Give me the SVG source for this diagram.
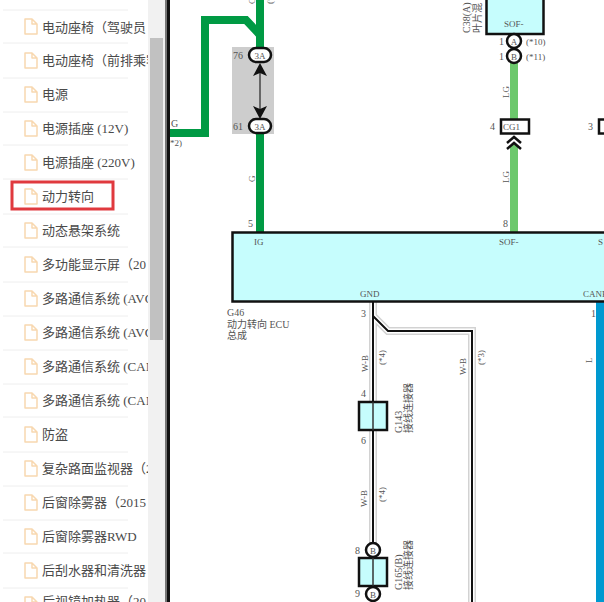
<svg xmlns="http://www.w3.org/2000/svg" width="604" height="602" viewBox="0 0 604 602">
<style>
.side{font-family:"Liberation Serif","Noto Sans CJK SC",serif;font-size:13px;fill:#4a4a4a}
.sep{stroke:#eee;stroke-width:1}
.doc{fill:#fff;stroke:#f8d8b0;stroke-width:1.5;stroke-linejoin:round}
.t{font-family:"Liberation Serif","Noto Sans CJK SC",serif;font-size:9px;fill:#555}
.c{font-family:"Liberation Serif","Noto Sans CJK SC",serif;font-size:10px;fill:#555}
.n{font-family:"Liberation Serif",serif;font-size:10px;fill:#555}
.wire{fill:none;stroke-linejoin:miter}
.pin{fill:#fff;stroke:#111;stroke-width:2.5}
.blk{fill:#c6fdfd;stroke:#111;stroke-width:2.5}
.ah{fill:#111}
</style>
<defs>
<path id="doc" class="doc" d="M25 0H32L37 5V15H25Z M32 0V5H37"/>
<clipPath id="sc"><rect x="0" y="0" width="148" height="602"/></clipPath>
</defs>
<rect width="604" height="602" fill="#fff"/>
<g id="sidebar">
<g class="sep">
<path d="M3 10H128M3 43H128M3 78H128M3 112H128M3 145H128M3 179H128M3 214H128M3 247H128M3 282H128M3 316H128M3 350H128M3 384H128M3 417H128M3 452H128M3 486H128M3 520H128M3 553H128M3 588H128"/>
</g>
<g>
<use href="#doc" y="19"/><use href="#doc" y="53"/><use href="#doc" y="87"/><use href="#doc" y="121"/><use href="#doc" y="155"/><use href="#doc" y="189"/><use href="#doc" y="223"/><use href="#doc" y="257"/><use href="#doc" y="291"/><use href="#doc" y="325"/><use href="#doc" y="359"/><use href="#doc" y="393"/><use href="#doc" y="427"/><use href="#doc" y="461"/><use href="#doc" y="495"/><use href="#doc" y="529"/><use href="#doc" y="563"/><use href="#doc" y="597"/>
</g>
<g clip-path="url(#sc)">
<text class="side" x="42" y="32">电动座椅（驾驶员</text>
<text class="side" x="42" y="65">电动座椅（前排乘客</text>
<text class="side" x="42" y="99">电源</text>
<text class="side" x="42" y="133">电源插座 (12V)</text>
<text class="side" x="42" y="167">电源插座 (220V)</text>
<text class="side" x="42" y="201">动力转向</text>
<text class="side" x="42" y="235">动态悬架系统</text>
<text class="side" x="42" y="269">多功能显示屏（20</text>
<text class="side" x="42" y="303">多路通信系统 (AVC</text>
<text class="side" x="42" y="337">多路通信系统 (AVC</text>
<text class="side" x="42" y="371">多路通信系统 (CAN</text>
<text class="side" x="42" y="405">多路通信系统 (CAN</text>
<text class="side" x="42" y="439">防盗</text>
<text class="side" x="42" y="473">复杂路面监视器（2</text>
<text class="side" x="42" y="507">后窗除雾器（2015</text>
<text class="side" x="42" y="541">后窗除雾器RWD</text>
<text class="side" x="42" y="575">后刮水器和清洗器</text>
<text class="side" x="42" y="606">后视镜加热器（20</text>
</g>
<rect x="12" y="182" width="101" height="27" fill="none" stroke="#e0393e" stroke-width="3"/>
<rect x="148" y="0" width="17" height="602" fill="#f1f1f1"/>
<rect x="150" y="38" width="13" height="302" fill="#c1c1c1"/>
<rect x="165" y="0" width="2" height="602" fill="#777"/>
<rect x="167" y="0" width="3" height="602" fill="#111"/>
</g>
<rect x="232" y="47" width="42" height="87" fill="#cdcdcd"/>
<g id="connectors">
<path class="wire" stroke="#009a44" stroke-width="8" d="M170 133H205V20H246L260 35"/>
<path class="wire" stroke="#009a44" stroke-width="8" d="M260 0V48M260 130V232"/>
<path class="wire" stroke="#6cc86c" stroke-width="8" d="M514 62V119M514 145V232"/>
<path class="wire" stroke="#0099d0" stroke-width="8" d="M600 302V602"/>
<path class="wire" stroke="#d2d2d2" stroke-width="8" d="M373 302V550M373 566V586"/>
<path class="wire" stroke="#d2d2d2" stroke-width="8" d="M373 316L388 331H472V602"/>
<path class="wire" stroke="#fff" stroke-width="5" d="M373 316L388 331H472V602"/>
<path class="wire" stroke="#fff" stroke-width="5" d="M373 302V550"/>
<path class="wire" stroke="#111" stroke-width="2" d="M373 302V602"/>
<path class="wire" stroke="#111" stroke-width="2" d="M373 316L388 331H472V602"/>
<path stroke="#444" stroke-width="1.5" d="M260 68V112"/>
<path class="ah" d="M260 63L267 76L260 73L253 76Z"/>
<path class="ah" d="M260 119L267 106L260 109L253 106Z"/>
<path fill="none" stroke="#111" stroke-width="2.5" d="M507 143L514 137L521 143M507 149L514 143L521 149"/>
</g>
<g id="node-3a-top"><rect class="pin" x="249" y="48" width="22" height="14" rx="7"/><text class="t" x="260" y="59" text-anchor="middle">3A</text><text class="n" x="233" y="59">76</text></g>
<g id="node-3a-bottom"><rect class="pin" x="249" y="119" width="22" height="14" rx="7"/><text class="t" x="260" y="130" text-anchor="middle">3A</text><text class="n" x="233" y="130">61</text></g>
<g id="node-g46">
<rect class="blk" x="232.500" y="232.500" width="380" height="69"/>
<text class="t" x="254" y="245">IG</text>
<text class="t" x="499" y="245">SOF-</text>
<text class="t" x="598" y="245">S</text>
<text class="t" x="360" y="297">GND</text>
<text class="t" x="583" y="297">CANH</text>
<text class="n" x="248" y="227">5</text>
<text class="n" x="503" y="227">8</text>
<text class="n" x="361" y="317">3</text>
<text class="n" x="591" y="317">1</text>
<text class="c" x="227" y="316">G46</text>
<text class="c" x="227" y="328">动力转向 ECU</text>
<text class="c" x="227" y="339">总成</text>
</g>
<g id="node-c38">
<rect class="blk" x="486.500" y="-5" width="57" height="39"/>
<text class="t" x="504" y="27">SOF-</text>
<text class="c" transform="translate(470 33) rotate(-90)">C38(A)</text>
<text class="c" transform="translate(481 33) rotate(-90)">叶片混</text>
<circle class="pin" cx="514" cy="41" r="7"/><text class="t" x="514" y="45" text-anchor="middle">A</text>
<circle class="pin" cx="514" cy="56" r="7"/><text class="t" x="514" y="60" text-anchor="middle">B</text>
<text class="n" x="499" y="45">1</text><text class="n" x="499" y="60">1</text>
<text class="t" x="526" y="45">(*10)</text><text class="t" x="526" y="60">(*11)</text>
</g>
<g id="node-cg1">
<rect class="pin" x="501" y="119.500" width="28" height="14"/>
<text class="t" x="503" y="130">CG1</text>
<text class="n" x="490" y="130">4</text>
</g>
<g id="node-right-pin">
<rect class="pin" x="599" y="119.500" width="14" height="14"/>
<text class="n" x="588" y="130">3</text>
</g>
<g id="node-g143">
<rect class="blk" x="359" y="402" width="28" height="28"/>
<path stroke="#333" stroke-width="1.500" d="M373 402V430"/>
<text class="n" x="361" y="397">4</text><text class="n" x="361" y="444">6</text>
<text class="c" transform="translate(402 433) rotate(-90)">G143</text>
<text class="c" transform="translate(412 433) rotate(-90)">接线连接器</text>
</g>
<g id="node-g165">
<circle class="pin" cx="373" cy="550" r="7"/><text class="t" x="373" y="554" text-anchor="middle">B</text>
<rect class="blk" x="359" y="558" width="28" height="28"/>
<path stroke="#333" stroke-width="1.500" d="M373 558V586"/>
<circle class="pin" cx="373" cy="594" r="7"/><text class="t" x="373" y="598" text-anchor="middle">B</text>
<text class="n" x="355" y="554">8</text><text class="n" x="355" y="597">9</text>
<text class="c" transform="translate(402 590) rotate(-90)">G165(B)</text>
<text class="c" transform="translate(412 590) rotate(-90)">接线连接器</text>
</g>
<g id="wire-labels">
<text class="n" x="171" y="127">G</text>
<text class="t" x="170" y="146">*2)</text>
<text class="t" transform="translate(255 182) rotate(-90)">G</text>
<text class="t" transform="translate(255 4) rotate(-90)">G</text>
<text class="t" transform="translate(273 4) rotate(-90)">(*</text>
<text class="t" transform="translate(509 98) rotate(-90)">LG</text>
<text class="t" transform="translate(509 183) rotate(-90)">LG</text>
<text class="t" transform="translate(368 372) rotate(-90)">W-B</text>
<text class="t" transform="translate(385 365) rotate(-90)">(*4)</text>
<text class="t" transform="translate(466 375) rotate(-90)">W-B</text>
<text class="t" transform="translate(484 365) rotate(-90)">(*3)</text>
<text class="t" transform="translate(367 507) rotate(-90)">W-B</text>
<text class="t" transform="translate(385 502) rotate(-90)">(*4)</text>
<text class="t" transform="translate(592 363) rotate(-90)">L</text>
</g>
</svg>
